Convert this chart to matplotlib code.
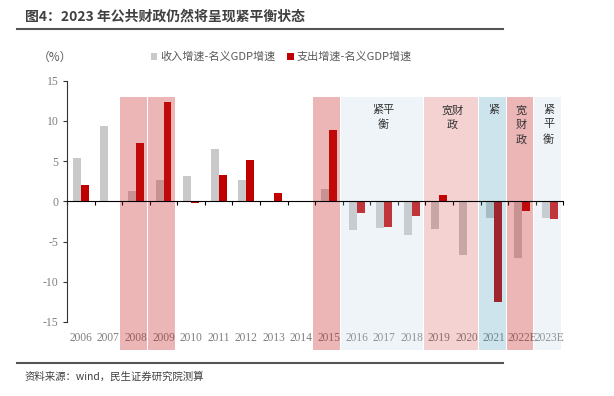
import numpy as np
import matplotlib.pyplot as plt
from matplotlib.patches import Rectangle
from matplotlib.lines import Line2D
import matplotlib.transforms as mtrans

plt.rcParams['font.family'] = ['Noto Sans CJK SC', 'DejaVu Sans']
plt.rcParams['axes.unicode_minus'] = False

years = ['2006', '2007', '2008', '2009', '2010', '2011', '2012', '2013', '2014',
         '2015', '2016', '2017', '2018', '2019', '2020', '2021', '2022E', '2023E']
income_gap = [5.4, 9.4, 1.3, 2.6, 3.15, 6.55, 2.65, 0.0, 0.1,
              1.5, -3.5, -3.3, -4.2, -3.45, -6.7, -2.1, -7.0, -2.1]
spend_gap = [2.0, 0.0, 7.3, 12.4, -0.15, 3.3, 5.1, 1.1, 0.0,
             8.9, -1.45, -3.2, -1.8, 0.85, 0.0, -12.55, -1.15, -2.15]

# policy periods: first year, last year, label
period_start = ['2008', '2009', '2015', '2016', '2019', '2021', '2022E', '2023E']
period_end = ['2008', '2009', '2015', '2018', '2020', '2021', '2022E', '2023E']
period_text = ['', '', '', '紧平\n衡', '宽财\n政', '紧', '宽\n财\n政', '紧\n平\n衡']
period_color = ['#C81E1E', '#C81E1E', '#C81E1E', '#BED7E4', '#C81E1E', '#3C96B4', '#C81E1E', '#BED7E4']
period_alpha = [0.32, 0.32, 0.32, 0.25, 0.2, 0.25, 0.32, 0.25]

fig = plt.figure(figsize=(6.14, 3.96), dpi=100)
ax = fig.add_axes([67/614, 1-322/396, 496.3/614, 241.3/396])

x = np.arange(len(years))
w = 0.29
b1 = ax.bar(x - w/2, income_gap, w, color='#C9C9C9', zorder=2, label='收入增速-名义GDP增速')
b2 = ax.bar(x + w/2, spend_gap, w, color='#C00000', zorder=2, label='支出增速-名义GDP增速')

for s, e, t, c, a in zip(period_start, period_end, period_text, period_color, period_alpha):
    i0, i1 = years.index(s), years.index(e)
    r = Rectangle((i0 - 0.56, -18.5), i1 - i0 + 0.97, 31.5, facecolor=c, alpha=a,
                  edgecolor='none', zorder=3, clip_on=False)
    ax.add_patch(r)
    if t:
        ax.text((i0 + i1) / 2 - 0.03, 12.0, t, ha='center', va='top', fontsize=8,
                color='#333333', linespacing=1.55, zorder=4)

ax.set_xlim(-0.5, len(years) - 0.5)
ax.set_ylim(-15, 15)
ax.set_yticks(np.arange(-15, 16, 5))
ax.tick_params(axis='y', direction='out', length=3.2, width=0.8, color='#333333',
               labelcolor='#7F7F7F', labelsize=8.5, pad=3)
for lab in ax.get_yticklabels():
    lab.set_fontfamily('Liberation Serif')

ax.spines['top'].set_visible(False)
ax.spines['right'].set_visible(False)
ax.spines['left'].set_color('#333333')
ax.spines['bottom'].set_position(('data', 0))
ax.spines['bottom'].set_color('black')
ax.spines['bottom'].set_zorder(5)
ax.set_xticks(np.arange(-0.5, len(years), 1.0))
ax.set_xticklabels([])
ax.tick_params(axis='x', direction='out', length=3, width=0.8, color='black')

trans = mtrans.blended_transform_factory(ax.transData, ax.transAxes)
for i, yr in enumerate(years):
    ax.text(i, -0.068, yr, transform=trans, ha='center', va='center', fontsize=8.3,
            color='#7F7F7F', family='Liberation Serif', zorder=2)

fig.legend(handles=[b1, b2], loc='center', bbox_to_anchor=(0.4585, 1-57/396), ncol=2,
           frameon=False, fontsize=8, labelcolor='#595959', handlelength=0.6,
           handleheight=0.6, handletextpad=0.3, columnspacing=1.0)

fig.text(55/614, 1-57/396, '（%）', ha='center', va='center', fontsize=8.5, color='#595959')
fig.text(25/614, 1-17/396, '图4：2023 年公共财政仍然将呈现紧平衡状态', ha='left', va='center',
         fontsize=10, fontweight='bold', color='#404040')
fig.add_artist(Line2D([17/614, 503/614], [1-29/396, 1-29/396], color='#555555', lw=1.5))
fig.add_artist(Line2D([17/614, 503/614], [1-363/396, 1-363/396], color='#555555', lw=1.5))
fig.text(25/614, 1-377/396, '资料来源：wind，民生证券研究院测算', ha='left', va='center',
         fontsize=7.5, color='#404040')

fig.savefig('out.png', dpi=100)
